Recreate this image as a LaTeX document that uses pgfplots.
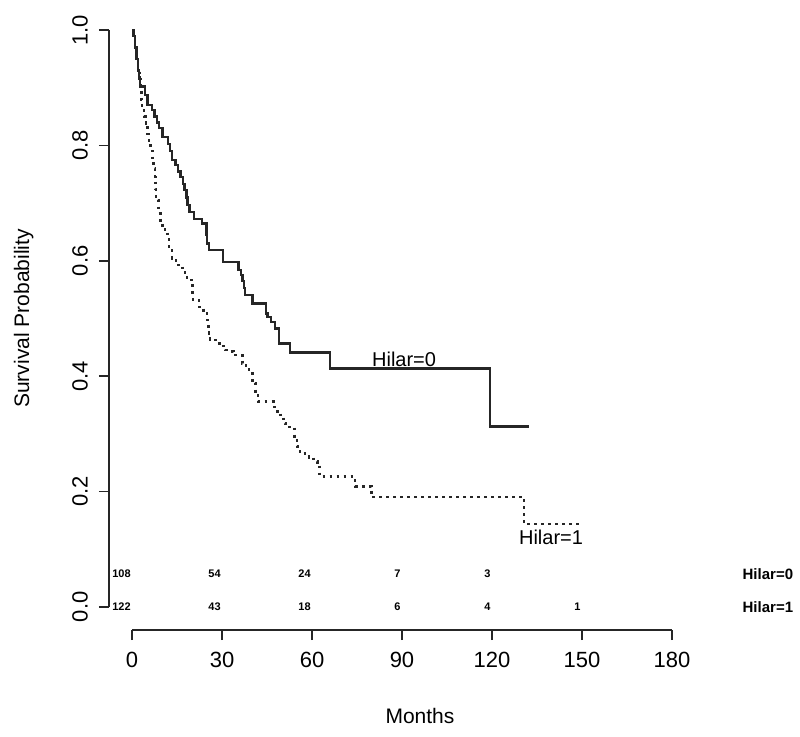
\documentclass[border=0pt]{standalone}
\usepackage{pgfplots}
\pgfplotsset{compat=1.18}
\usepackage{fontspec}
\setmainfont{Liberation Sans}
\begin{document}
\begin{tikzpicture}[x=1pt,y=1pt]
\path[use as bounding box] (-54.5,-53) rectangle (345.5,315);
\begin{axis}[
  at={(0,0)}, anchor=south west,
  scale only axis, width=311pt, height=311.5pt,
  xmin=-7.7, xmax=199.7, ymin=-0.04, ymax=1.04,
  axis x line*=bottom, axis y line*=left,
  axis line style={draw=none},
  xtick={0,30,60,90,120,150,180},
  ytick={0,0.2,0.4,0.6,0.8,1.0},
  tick align=outside,
  major tick length=5pt,
  tick style={black!85, line width=0.7pt},
  /pgf/number format/assume math mode=true,
  ticklabel style={font=\fontsize{11}{13}\selectfont},
  xticklabel shift=2.5pt,
  yticklabel shift=2pt,
  yticklabel style={/pgf/number format/fixed, /pgf/number format/fixed zerofill, /pgf/number format/precision=1, rotate=90, anchor=south},
  xlabel={Months}, ylabel={Survival Probability},
  label style={font=\fontsize{10.5}{12}\selectfont},
  xlabel style={at={(axis description cs:0.5,-0.138)}, anchor=center},
  ylabel style={at={(axis description cs:-0.137,0.5)}, anchor=center},
  clip=false,
]
\draw[black!85, line width=0.8pt] (axis cs:0,-0.04) -- (axis cs:180,-0.04);
\draw[black!85, line width=0.8pt] (axis cs:-7.7,0) -- (axis cs:-7.7,1);

% Hilar=0 (solid)
\addplot[const plot, line width=1.2pt, black!85] coordinates {
(0,1.0) (0.5,0.99) (1,0.97) (1.5,0.95) (2,0.93) (2.4,0.918) (2.6,0.902)
(4.4,0.887) (5.1,0.87) (6.6,0.861) (7.5,0.85) (8.3,0.84) (9,0.83)
(10.2,0.815) (11.9,0.803) (12.6,0.79) (13.4,0.775) (14.5,0.766)
(15.4,0.755) (16.2,0.745) (17.0,0.733) (17.5,0.723) (18.2,0.71)
(18.5,0.697) (19.2,0.685) (20.7,0.673) (23.3,0.665) (24.8,0.645)
(25.0,0.63) (25.7,0.619) (30.3,0.598) (35.5,0.584) (36.3,0.575)
(36.8,0.565) (37.3,0.553) (37.7,0.541) (40.1,0.526) (44.6,0.509)
(45.2,0.503) (46.3,0.494) (47.6,0.483) (48.9,0.457) (52.7,0.441)
(66.0,0.413) (119.3,0.3125) (132.3,0.3125)
};
% Hilar=1 (dotted)
\addplot[const plot, line width=1.2pt, black!85, line cap=butt, dash pattern=on 1.4pt off 2.1pt] coordinates {
(0,1.0) (0.5,0.99) (1,0.97) (1.5,0.95) (2,0.93) (2.5,0.915) (2.9,0.9)
(3.1,0.88) (3.4,0.861) (4.0,0.85) (4.6,0.838) (5.2,0.82) (5.7,0.803)
(6.2,0.79) (6.8,0.775) (7.2,0.76) (7.6,0.745) (7.8,0.725) (8.0,0.705)
(8.8,0.682) (9.5,0.67) (10.1,0.659) (11.0,0.65) (11.8,0.642)
(12.3,0.619) (13.4,0.604) (14.6,0.593) (16.8,0.584) (17.6,0.575)
(18.4,0.567) (19.9,0.561) (20.2,0.545) (20.4,0.532) (22.3,0.52)
(23.8,0.509) (25.0,0.497) (25.3,0.486) (25.7,0.474) (26.0,0.463)
(27.9,0.457) (29.6,0.452) (31.0,0.445) (32.3,0.443) (33.8,0.437)
(36.8,0.422) (38.0,0.414) (39.0,0.405) (40.1,0.388) (41.2,0.373)
(42.0,0.356) (47.3,0.347) (48.4,0.339) (49.5,0.33) (50.5,0.318)
(51.2,0.312) (54.2,0.295) (55.0,0.278) (56.0,0.266) (59.0,0.259)
(60.5,0.252) (61.8,0.246) (62.5,0.226) (74.4,0.209) (79.8,0.191)
(130.7,0.144) (150,0.144)
};

\node[font=\fontsize{10}{12}\selectfont] at (axis cs:90.7,0.43) {Hilar=0};
\node[font=\fontsize{10}{12}\selectfont] at (axis cs:139.7,0.121) {Hilar=1};

\begin{scope}[every node/.style={anchor=east, font=\bfseries\fontsize{5.5}{6}\selectfont, inner sep=0.5pt}]
\node at (axis cs:0,0.057) {108};
\node at (axis cs:30,0.057) {54};
\node at (axis cs:60,0.057) {24};
\node at (axis cs:90,0.057) {7};
\node at (axis cs:120,0.057) {3};
\node at (axis cs:0,0) {122};
\node at (axis cs:30,0) {43};
\node at (axis cs:60,0) {18};
\node at (axis cs:90,0) {6};
\node at (axis cs:120,0) {4};
\node at (axis cs:150,0) {1};
\end{scope}
\node[font=\bfseries\fontsize{7.5}{8}\selectfont] at (axis cs:212,0.057) {Hilar=0};
\node[font=\bfseries\fontsize{7.5}{8}\selectfont] at (axis cs:212,0) {Hilar=1};
\end{axis}
\end{tikzpicture}
\end{document}
